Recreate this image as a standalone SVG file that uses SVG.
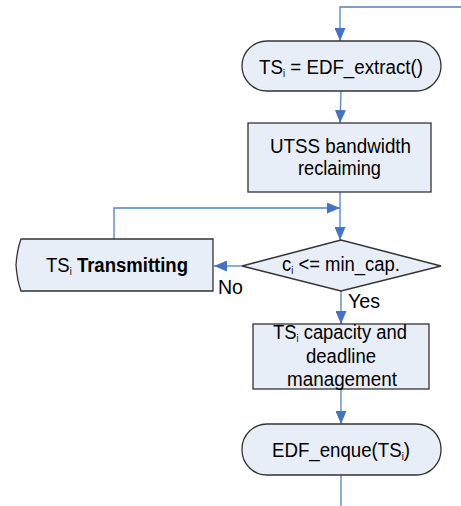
<svg xmlns="http://www.w3.org/2000/svg" width="461" height="506" viewBox="0 0 461 506">
<style>
.shape{fill:#E8EEF7;stroke:#333333;stroke-width:1.3}
.t{font-family:"Liberation Sans",Arial,sans-serif;font-size:20px;fill:#000;text-anchor:middle}
.lbl{font-family:"Liberation Sans",Arial,sans-serif;font-size:20px;fill:#000}
.sub{font-size:10px;baseline-shift:-3px}
.conn{fill:none;stroke:#4F81BD;stroke-width:1.3}
</style>
<defs>
<marker id="arr" markerUnits="userSpaceOnUse" markerWidth="13" markerHeight="11" refX="13" refY="5.5" orient="auto">
<path d="M0,0 L13,5.5 L0,11 Z" fill="#4472C4"/>
</marker>
</defs>
<rect width="461" height="506" fill="#ffffff"/>
<g id="connectors">
<path class="conn" d="M461,7 H340 V41" marker-end="url(#arr)"/>
<path class="conn" d="M341,91 L340,123" marker-end="url(#arr)"/>
<path class="conn" d="M340,192 V240" marker-end="url(#arr)"/>
<path class="conn" d="M114,239 V208 H340" marker-end="url(#arr)"/>
<path class="conn" d="M242,266 H214" marker-end="url(#arr)"/>
<path class="conn" d="M341,291 V324" marker-end="url(#arr)"/>
<path class="conn" d="M341,389 V424" marker-end="url(#arr)"/>
<path class="conn" d="M341,475 V506"/>
<text class="lbl" x="218" y="294" textLength="25" lengthAdjust="spacingAndGlyphs">No</text>
<text class="lbl" x="348" y="308" textLength="32" lengthAdjust="spacingAndGlyphs">Yes</text>
</g>
<g id="extract">
<rect class="shape" x="242" y="41" width="199" height="50" rx="25" ry="25"/>
<text class="t" x="341" y="74" textLength="164" lengthAdjust="spacingAndGlyphs">TS<tspan class="sub">i</tspan> = EDF_extract()</text>
</g>
<g id="reclaim">
<rect class="shape" x="248" y="123" width="183" height="69"/>
<text class="t" x="340.5" y="153" textLength="141" lengthAdjust="spacingAndGlyphs">UTSS bandwidth</text>
<text class="t" x="339.5" y="175" textLength="83" lengthAdjust="spacingAndGlyphs">reclaiming</text>
</g>
<g id="decision">
<polygon class="shape" points="242,266 341,240 441,266 341,291"/>
<text class="t" x="341" y="271" textLength="118" lengthAdjust="spacingAndGlyphs">c<tspan class="sub">i</tspan> &lt;= min_cap.</text>
</g>
<g id="transmit">
<path class="shape" d="M21,239 H213 V291 H21 Q17,280 16,265 Q17,250 21,239 Z"/>
<text class="t" x="117" y="272" textLength="142" lengthAdjust="spacingAndGlyphs">TS<tspan class="sub">i</tspan> <tspan font-weight="bold">Transmitting</tspan></text>
</g>
<g id="manage">
<rect class="shape" x="253" y="324" width="176" height="65"/>
<text class="t" x="340" y="339" textLength="134" lengthAdjust="spacingAndGlyphs">TS<tspan class="sub">i</tspan> capacity and</text>
<text class="t" x="341" y="363" textLength="70" lengthAdjust="spacingAndGlyphs">deadline</text>
<text class="t" x="342" y="386" textLength="110" lengthAdjust="spacingAndGlyphs">management</text>
</g>
<g id="enque">
<rect class="shape" x="242" y="424" width="199" height="51" rx="25" ry="25"/>
<text class="t" x="341" y="457" textLength="138" lengthAdjust="spacingAndGlyphs">EDF_enque(TS<tspan class="sub">i</tspan>)</text>
</g>
</svg>
